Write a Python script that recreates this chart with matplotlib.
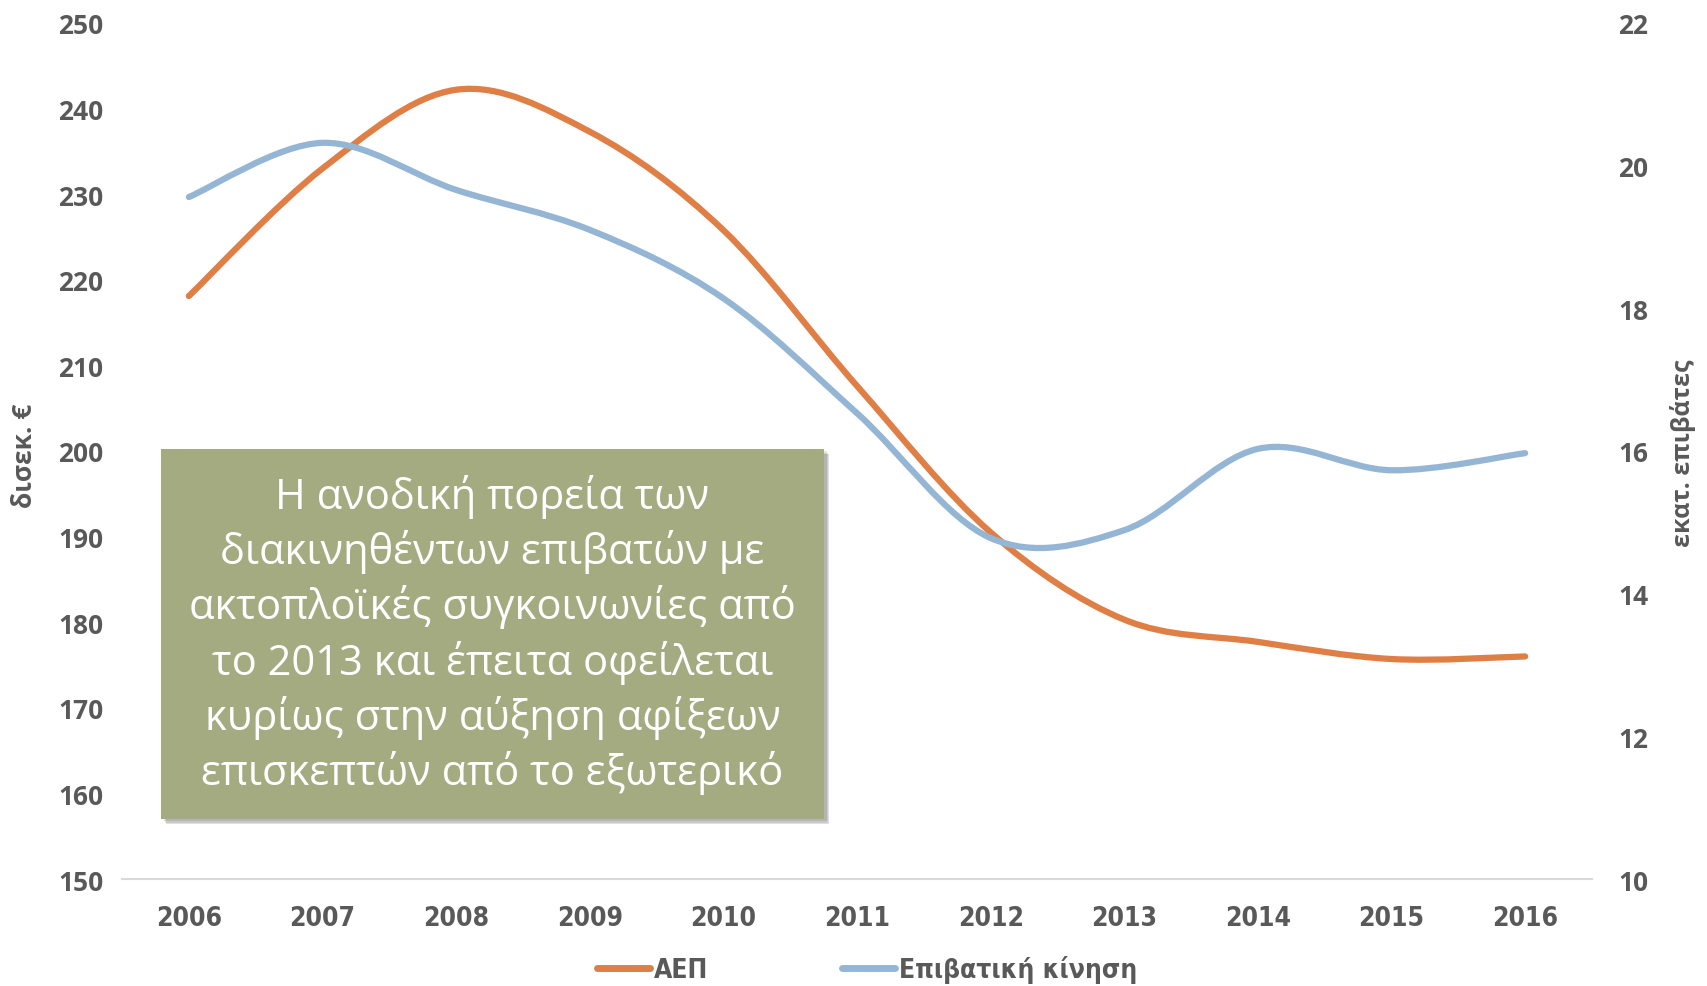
import numpy as np
import matplotlib
matplotlib.use('Agg')
from matplotlib import pyplot as plt
from matplotlib import font_manager
from matplotlib.path import Path
from matplotlib.patches import PathPatch, Rectangle
from matplotlib.lines import Line2D

years = ['2006', '2007', '2008', '2009', '2010', '2011', '2012', '2013', '2014', '2015', '2016']
gdp = [218.1, 233.0, 242.2, 237.3, 225.8, 207.6, 190.5, 180.3, 177.7, 175.7, 176.0]
passengers = [19.56, 20.32, 19.66, 19.10, 18.14, 16.53, 14.78, 14.89, 16.03, 15.73, 15.97]

label_gdp = 'ΑΕΠ'
label_pass = 'Επιβατική κίνηση'
ylabel_left = 'δισεκ. €'
ylabel_right = 'εκατ. επιβάτες'
note = ('Η ανοδική πορεία των\nδιακινηθέντων επιβατών με\nακτοπλοϊκές συγκοινωνίες από\n'
        'το 2013 και έπειτα οφείλεται\nκυρίως στην αύξηση αφίξεων\nεπισκεπτών από το εξωτερικό')

orange = '#DF7F45'
blue = '#94B6D4'
grey = '#595959'

# pick fonts that are really there (bold + condensed where possible)
fonts = font_manager.fontManager.ttflist
bold_names = {f.name for f in fonts if f.weight in (600, 700, 'bold', 'semibold', 800)}
cond = [f for f in fonts if 'condensed' in str(f.stretch) or 'Narrow' in f.name or 'Condensed' in f.name]
cond_bold = [f for f in cond if f.weight in (700, 'bold')]
if cond_bold:
    narrow_prop = font_manager.FontProperties(fname=cond_bold[0].fname, size=19)
else:
    narrow_prop = font_manager.FontProperties(family='DejaVu Sans', weight='bold', stretch='condensed', size=16)
bold_family = 'Open Sans' if 'Open Sans' in bold_names else 'DejaVu Sans'


def smooth_path(x, y):
    # excel-like smoothed line: bezier segments with catmull-rom control points
    x = np.asarray(x, float)
    y = np.asarray(y, float)
    n = len(x)
    verts = [(x[0], y[0])]
    codes = [Path.MOVETO]
    for i in range(n - 1):
        p0 = np.array([x[max(i - 1, 0)], y[max(i - 1, 0)]])
        p1 = np.array([x[i], y[i]])
        p2 = np.array([x[i + 1], y[i + 1]])
        p3 = np.array([x[min(i + 2, n - 1)], y[min(i + 2, n - 1)]])
        c1 = p1 + (p2 - p0) / 6
        c2 = p2 - (p3 - p1) / 6
        verts += [tuple(c1), tuple(c2), tuple(p2)]
        codes += [Path.CURVE4] * 3
    return Path(verts, codes)


fig = plt.figure(figsize=(17.07, 9.87), dpi=100)
ax = fig.add_axes([0.0715, 0.1084, 0.8611, 0.8673])
ax2 = ax.twinx()

xs = np.arange(len(years))
ax.add_patch(PathPatch(smooth_path(xs, gdp), fill=False, edgecolor=orange, lw=4.5,
                       capstyle='round', joinstyle='round', zorder=3))
ax2.add_patch(PathPatch(smooth_path(xs, passengers), fill=False, edgecolor=blue, lw=4.5,
                        capstyle='round', joinstyle='round', zorder=3))

ax.set_xlim(-0.5, len(years) - 0.5)
ax.set_ylim(150, 250)
ax.set_yticks(np.arange(150, 251, 10))
ax2.set_ylim(10, 22)
ax2.set_yticks(np.arange(10, 23, 2))
ax.set_xticks(xs)
ax.set_xticklabels(years)

for a in (ax, ax2):
    for s in ['top', 'left', 'right', 'bottom']:
        a.spines[s].set_visible(False)
ax.spines['bottom'].set_visible(True)
ax.spines['bottom'].set_color('#D9D9D9')
ax.spines['bottom'].set_linewidth(1.5)

ax.tick_params(axis='x', length=0, pad=19)
ax.tick_params(axis='y', length=0, pad=13.5)
ax2.tick_params(axis='y', length=0, pad=19)
for t in ax.get_xticklabels():
    t.set_fontproperties(narrow_prop)
    t.set_color(grey)
for t in ax.get_yticklabels() + ax2.get_yticklabels():
    t.set_family(bold_family)
    t.set_fontweight('bold')
    t.set_fontsize(19)
    t.set_color(grey)

fig.text(0.0146, 0.538, ylabel_left, rotation=90, ha='center', va='center',
         family=bold_family, fontweight='bold', fontsize=19, color=grey)
fig.text(0.986, 0.541, ylabel_right, rotation=90, ha='center', va='center',
         family=bold_family, fontweight='bold', fontsize=18, color=grey)

# note box with a soft shadow
bx, by, bw, bh = 0.0943, 0.1692, 0.3884, 0.3749
for k, al in enumerate([0.10, 0.10, 0.12]):
    off = 0.0025 + k * 0.0012
    fig.patches.append(Rectangle((bx + off * 0.6, by - off), bw, bh, transform=fig.transFigure,
                                 facecolor='#000000', alpha=al, edgecolor='none', zorder=4))
fig.patches.append(Rectangle((bx, by), bw, bh, transform=fig.transFigure,
                             facecolor='#A4AB80', edgecolor='none', zorder=5))
fig.text(bx + bw / 2, by + bh / 2, note, ha='center', va='center', color='white',
         family='Open Sans', fontsize=30, linespacing=1.33, zorder=6)

handles = [Line2D([], [], color=orange, lw=5, solid_capstyle='round'),
           Line2D([], [], color=blue, lw=5, solid_capstyle='round')]
leg_prop = narrow_prop.copy()
leg = fig.legend(handles, [label_gdp, label_pass], loc='center', bbox_to_anchor=(0.508, 0.017),
                 ncol=2, frameon=False, handlelength=2.0, handletextpad=0.15, columnspacing=5.1,
                 prop=leg_prop)
for t in leg.get_texts():
    t.set_color(grey)

fig.savefig('out.png', dpi=100)
